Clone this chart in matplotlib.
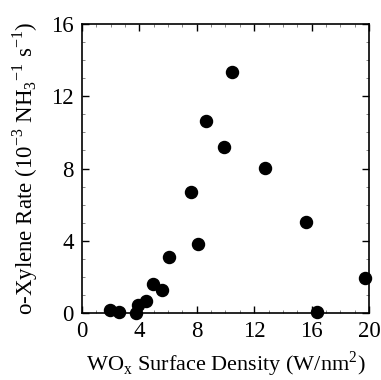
import matplotlib
matplotlib.use("Agg")
import matplotlib.pyplot as plt
from matplotlib.ticker import MultipleLocator

density = [1.95, 2.6, 3.76, 3.92, 4.46, 4.93, 5.55, 6.04, 7.6, 8.06, 8.66, 9.9, 10.47, 12.75, 15.6, 16.4, 19.7]
rate = [0.17, 0.07, 0.0, 0.44, 0.66, 1.59, 1.27, 3.12, 6.68, 3.82, 10.65, 9.17, 13.36, 8.01, 5.06, 0.07, 1.92]
x_ticks = [0, 4, 8, 12, 16, 20]
y_ticks = [0, 4, 8, 12, 16]

plt.rcParams['font.family'] = ['Liberation Serif', 'DejaVu Serif']
plt.rcParams['mathtext.fontset'] = 'custom'
plt.rcParams['mathtext.rm'] = 'Liberation Serif'

fig = plt.figure(figsize=(3.81, 3.80), dpi=100)
ax = fig.add_axes([0.2152, 0.1763, 0.7533, 0.7605])
ax.scatter(density, rate, s=75, color='black', zorder=3, clip_on=False)
ax.set_xlim(0, 20)
ax.set_ylim(0, 16)
ax.set_xticks(x_ticks)
ax.set_yticks(y_ticks)
ax.xaxis.set_minor_locator(MultipleLocator(1))
ax.yaxis.set_minor_locator(MultipleLocator(1))
ax.tick_params(which='major', direction='in', length=5, width=1, labelsize=16.5, top=True, right=True, pad=6)
ax.tick_params(which='minor', direction='in', length=2, width=0.5, color='#555555', top=True, right=True)
for s in ax.spines.values():
    s.set_linewidth(1.2)
ax.set_xlabel(r'WO$_\mathrm{x}$ Surface Density (W/nm$^\mathrm{2}$)', fontsize=16, labelpad=5)
ax.set_ylabel(r'o-Xylene Rate (10$^\mathrm{-3}$ NH$_\mathrm{3}$$^\mathrm{-1}$ s$^\mathrm{-1}$)', fontsize=16.5, labelpad=8)
fig.savefig('out.png', dpi=100)
